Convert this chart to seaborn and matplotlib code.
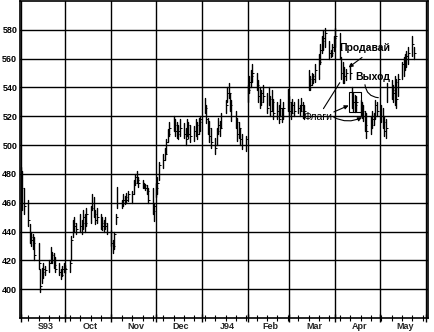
import matplotlib
matplotlib.use("Agg")
import matplotlib.pyplot as plt
import matplotlib.dates as mdates
from matplotlib.ticker import FixedLocator
from matplotlib.patches import Rectangle
import numpy as np
import pandas as pd
import seaborn as sns

# ---------------- data (daily bars, Sep 1993 - May 1994) ----------------
highs = [
    485, 482, 470,
    462, 445, 440, 438, 436,
    432, 414, 415, 418, 416,
    420, 429, 426, 425, 422,
    418, 414, 416, 418, 417,
    420, 437, 448, 450, 446,
    452, 448, 455, 452, 456,
    458, 466, 464, 455, 456,
    452, 450, 448, 450, 446,
    441, 434, 440, 452, 471,
    462, 466, 465, 467, 468,
    468, 476, 480, 482, 478,
    476, 474, 473, 472, 470,
    470, 460, 474, 478, 488,
    494, 498, 504, 511, 516,
    520, 518, 516, 514, 518,
    515, 512, 518, 516, 514,
    513, 518, 516, 519, 520,
    533, 528, 519, 517, 512,
    505, 512, 519, 517, 522,
    531, 540, 543, 536, 531,
    524, 519, 516, 512, 508,
    506, 542, 548, 552, 556,
    550, 545, 540, 538, 542,
    536, 540, 534, 538, 532,
    530, 528, 532, 526, 530,
    539, 534, 530, 532, 530,
    532, 528, 533, 530, 528,
    552, 548, 550, 549, 556,
    563, 570, 576, 580, 581,
    572, 566, 570, 576, 581,
    578, 561, 558, 554, 553,
    556, 540, 536, 535, 534,
    531, 530, 528, 524, 522,
    520, 524, 522, 531, 530,
    528, 526, 520, 518, 543,
    545, 542, 548, 546, 549,
    558, 561, 563, 565, 568,
    576, 568,
]
lows = [
    462, 455, 452,
    444, 432, 430, 428, 420,
    414, 398, 404, 408, 410,
    412, 418, 418, 415, 412,
    410, 407, 409, 412, 411,
    412, 420, 436, 440, 438,
    440, 438, 442, 440, 444,
    446, 455, 450, 445, 446,
    442, 441, 440, 442, 438,
    430, 425, 428, 445, 456,
    456, 458, 459, 460, 461,
    460, 466, 472, 474, 471,
    470, 470, 469, 466, 460,
    452, 447, 464, 466, 476,
    484, 490, 494, 502, 506,
    510, 506, 505, 504, 506,
    505, 500, 506, 505, 502,
    503, 506, 504, 508, 510,
    522, 515, 508, 502, 498,
    494, 500, 508, 506, 512,
    522, 530, 533, 524, 517,
    512, 503, 505, 500, 497,
    496, 530, 536, 540, 544,
    538, 530, 526, 528, 530,
    522, 528, 520, 524, 518,
    518, 515, 520, 516, 518,
    524, 520, 518, 522, 520,
    522, 520, 524, 519, 518,
    538, 538, 542, 543, 544,
    546, 556, 564, 566, 568,
    560, 561, 562, 565, 568,
    560, 546, 543, 543, 545,
    546, 526, 524, 523, 524,
    520, 519, 517, 510, 505,
    508, 512, 514, 518, 520,
    516, 512, 506, 505, 530,
    532, 530, 528, 526, 534,
    546, 548, 552, 554, 556,
    562, 560,
]
closes = [
    470, 460, 458,
    448, 436, 434, 432, 424,
    418, 402, 412, 414, 413,
    418, 424, 420, 417, 414,
    412, 410, 414, 415, 414,
    418, 434, 446, 444, 442,
    444, 446, 450, 446, 452,
    456, 460, 452, 448, 450,
    446, 444, 446, 444, 440,
    432, 430, 438, 450, 460,
    460, 462, 464, 462, 466,
    466, 474, 478, 476, 474,
    472, 472, 470, 468, 462,
    454, 458, 470, 474, 486,
    490, 494, 502, 508, 512,
    514, 510, 508, 510, 512,
    508, 504, 514, 508, 506,
    510, 514, 508, 516, 518,
    526, 518, 512, 506, 502,
    498, 510, 514, 512, 520,
    528, 536, 536, 528, 520,
    516, 508, 512, 504, 500,
    504, 538, 544, 548, 550,
    542, 534, 530, 536, 534,
    526, 532, 524, 530, 522,
    524, 518, 526, 520, 526,
    530, 524, 522, 528, 524,
    526, 524, 528, 522, 524,
    546, 542, 548, 546, 552,
    558, 566, 572, 574, 578,
    564, 564, 568, 574, 576,
    566, 550, 548, 548, 550,
    550, 530, 530, 528, 530,
    524, 524, 520, 514, 510,
    514, 518, 520, 528, 524,
    520, 516, 510, 512, 540,
    538, 536, 544, 532, 546,
    556, 556, 560, 562, 564,
    570, 564,
]
y_ticks = [400, 420, 440, 460, 480, 500, 520, 540, 560, 580]
month_labels = ["S93", "Oct", "Nov", "Dec", "J94", "Feb", "Mar", "Apr", "May"]

dates = pd.bdate_range("1993-09-01", periods=len(highs))

# long table: two rows (high, low) per bar
bars = pd.DataFrame({
    "date": np.repeat(dates, 2),
    "price": np.ravel(np.column_stack([highs, lows])),
    "bar": np.repeat(np.arange(len(highs)), 2),
})
close_df = pd.DataFrame({"date": dates, "price": closes})

# ---------------- style ----------------
sns.set_style("white")
plt.rcParams["font.family"] = ["Liberation Sans", "DejaVu Sans"]

fig = plt.figure(figsize=(4.35, 3.32), dpi=100)
ax = fig.add_axes([20 / 435, 14 / 332, 408 / 435, 317 / 332])

sns.lineplot(data=bars, x="date", y="price", units="bar", estimator=None,
             color="black", linewidth=1.0, sort=False, ax=ax)
sns.scatterplot(data=close_df, x="date", y="price", marker=1, s=3,
                color="black", linewidth=0.7, ax=ax)

start = mdates.date2num(pd.Timestamp("1993-09-01"))
ax.set_xlim(start - 0.6, start + 274.5)
ax.set_ylim(380, 600)

ax.xaxis.set_major_locator(mdates.MonthLocator())
ax.xaxis.set_minor_locator(mdates.WeekdayLocator(byweekday=mdates.MO))
ax.yaxis.set_major_locator(FixedLocator(y_ticks))
ax.grid(True, which="major", color="black", linewidth=1.0)
ax.set_axisbelow(True)

ax.tick_params(axis="x", which="major", direction="inout", length=6, width=1,
               bottom=True, labelbottom=False, color="black")
ax.tick_params(axis="x", which="minor", direction="inout", length=4, width=0.8,
               bottom=True, labelbottom=False, color="black")
ax.tick_params(axis="y", which="major", length=0, pad=2, labelsize=6.5,
               labelcolor="black")
for lab in ax.get_yticklabels():
    lab.set_fontweight("bold")
ax.set_xlabel("")
ax.set_ylabel("")

for sp in ax.spines.values():
    sp.set_visible(True)
    sp.set_color("black")
    sp.set_linewidth(1.2)

# month labels, centred in each month
month_starts = pd.date_range("1993-09-01", periods=len(month_labels) + 1, freq="MS")
for i, lab in enumerate(month_labels):
    a = mdates.date2num(month_starts[i])
    b = mdates.date2num(month_starts[i + 1])
    ax.text((a + b) / 2 + 1.5, -0.012, lab, transform=ax.get_xaxis_transform(),
            ha="center", va="top", fontsize=6.5, fontweight="bold")

# ---------------- annotations ----------------
def d(s):
    return mdates.date2num(pd.Timestamp(s))

txt_kw = dict(ha="center", va="center", color="black")
ax.text(d("1994-04-21"), 567.7, "Продавай", fontsize=7.5, fontweight="bold", **txt_kw)
ax.text(d("1994-04-26"), 547.4, "Выход", fontsize=7.5, fontweight="bold", **txt_kw)
ax.text(d("1994-03-20"), 519.4, "Флаги", fontsize=7.5, **txt_kw)

arr = dict(arrowstyle="-|>", color="black", lw=0.8, mutation_scale=6,
           shrinkA=0, shrinkB=0)
ax.annotate("", xy=(d("1994-04-10"), 553.9), xytext=(d("1994-04-19"), 560.8),
            arrowprops=arr)
ax.annotate("", xy=(d("1994-04-30"), 532.9), xytext=(d("1994-04-21"), 541.9),
            arrowprops=dict(arrowstyle="-", color="black", lw=0.8,
                            connectionstyle="arc3,rad=0.4",
                            shrinkA=0, shrinkB=0))
ax.annotate("", xy=(d("1994-04-04"), 543.3), xytext=(d("1994-03-24"), 525.3),
            arrowprops=dict(arrowstyle="-", color="black", lw=0.8,
                            shrinkA=0, shrinkB=0))
ax.annotate("", xy=(d("1994-04-10"), 527.5), xytext=(d("1994-03-31"), 523.0),
            arrowprops=arr)
ax.annotate("", xy=(d("1994-04-19"), 519.3), xytext=(d("1994-03-31"), 519.3),
            arrowprops=dict(arr, connectionstyle="arc3,rad=0.25"))
ax.add_patch(Rectangle((d("1994-04-10"), 522.7), 8, 13.9, fill=False,
                       edgecolor="black", linewidth=0.8))

fig.savefig("out.png", dpi=100)
